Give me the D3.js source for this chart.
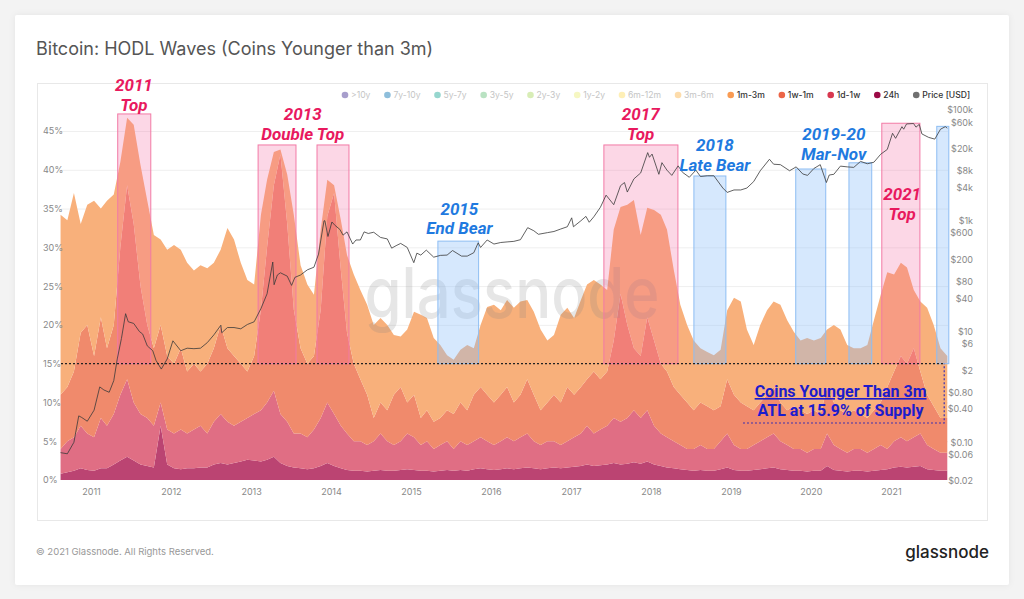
<!DOCTYPE html>
<html><head><meta charset="utf-8">
<script src="https://cdn.jsdelivr.net/npm/d3@7"></script>
<style>
body{margin:0;background:#f3f3f3;}
svg{display:block;font-family:Inter,"Noto Sans",sans-serif;}
</style></head>
<body><svg id="chart" width="1024" height="599"></svg>
<script>
// ---------- DATA ----------
const startMonth = "2010-08-15"; // monthly samples, mid-month
const under3m = [34.2,33.5,37,33,35.5,36,35,36,36.8,41,
 46.7,45.8,40.6,36,31.6,31,29.7,30.3,29.7,28,
 27,27.7,27.3,28,29.7,32.5,31,28,25.8,25.2,
 34.2,38.7,42.3,42.6,39.4,34.2,27.7,25.2,23.9,32.3,
 38.7,38,33.5,29,26.5,24.5,22.6,20,20.9,20,
 18.7,18.5,19.4,21.7,21.3,20.9,18.3,17.4,16.1,15.5,
 16.8,17.4,17,20,22.3,22.6,21.9,23.2,22.2,23,
 23.2,21.7,19.4,18,18.7,21.3,22.2,20.9,23.2,25.2,
 25.8,25.2,24.5,32.3,35.2,35.5,36.1,31.6,35.1,34.8,
 34.2,32.3,27.1,22.6,20,18,17,16.5,16.1,16.8,
 21.9,23.5,23,19.4,17.4,20,21.9,23,22.6,20.6,
 19.1,18,18.3,18,18.3,19.4,20,19.4,17.4,17,
 17,17.4,20.6,23.9,26.8,26.5,28,27.4,24.5,23,
 22.2,20,17,16];
const under1m = [11,12,14,19,20,16,21,17,20,30,
 38,33,25,20,17,20,16,15,17,14,
 15,14,15,17,20,17,16,15,14,16,
 22,30,38,42,33,22,17,15,16,22,
 34,37,27,19,15,13,11,8,10,9,
 11,12,10,11,8,9,7.5,8,9,8.5,
 10,9,11,12,11,10,11,12,10,11,
 13,11,9,10,11,10,12,11,12,13,
 14,13,14,18,24,20,17,16,21,18,
 15,14,12,11,10,9,10,9.5,9,9.5,
 13,11,10,9.5,9,10,11,12,10,9,
 9.5,9,8.5,9,8.5,12,10,9,8.5,9,
 8.5,8,9,10,12,14,16,15,17,14,
 11,9.5,8,8];
const under1w = [4,5,5.5,7,6,5.5,8,7,8.5,11,
 13,10,8.5,8,7,10,6.5,6,6.5,6,
 6.5,7,6,7.5,8.5,7.5,7,7.5,8,8.5,
 9,10,11.5,8.5,7.5,6,6,5.5,6.5,8,
 10,8.5,7,6,5,5,4.5,5,6,5,
 4.5,5,6,5.5,4.5,5,4,4.5,5,4,
 5,4.5,5,5.5,5,4.5,5,5.5,5,5.5,
 6,5,4.5,5,5,4.5,5,5.5,6,7,
 6,6.5,7,8,7.5,8,9,8,9,7,
 6,5.5,5,4.5,4,4,4.5,4,4,5,
 6,4.5,4,4,4.5,5,5.5,6,5,4.5,
 4,4,3.5,4,4,6,4.5,4,3.5,4,
 4,3.5,4,4.5,4,5,5.5,5,5.5,6,
 4.5,4,3.5,3.5];
const under24h = [0.8,1,1.2,1.5,1.3,1.2,1.5,1.5,2,2.5,
 3,2.5,2,1.8,1.6,7,2,1.5,1.4,1.5,
 1.5,1.6,1.6,2,2.2,2,2.2,2.4,2.6,2.5,
 2.4,2.6,3,2.2,1.8,1.6,1.5,1.4,1.5,1.8,
 2.2,1.8,1.5,1.3,1.2,1.2,1.1,1.2,1.3,1.2,
 1.2,1.3,1.4,1.3,1.2,1.2,1.1,1.2,1.3,1.2,
 1.3,1.2,1.4,1.5,1.4,1.3,1.4,1.5,1.4,1.5,
 1.6,1.5,1.4,1.5,1.6,1.5,1.6,1.7,1.8,2,
 1.8,1.9,2,2.2,2,2.1,2.3,2.1,2.4,2,
 1.8,1.6,1.5,1.4,1.3,1.2,1.3,1.2,1.2,1.4,
 1.6,1.3,1.2,1.2,1.3,1.4,1.5,1.6,1.4,1.3,
 1.2,1.2,1.1,1.2,1.2,1.8,1.3,1.2,1.1,1.2,
 1.2,1.1,1.2,1.3,1.4,1.6,1.7,1.6,1.7,1.8,
 1.4,1.3,1.2,1.2];

const priceDates = ["2010-08-15","2010-09-15","2010-10-15","2010-11-06","2010-11-20","2010-12-15","2011-01-15","2011-02-10","2011-03-01","2011-03-25","2011-04-15","2011-05-01","2011-05-20","2011-06-08","2011-06-20","2011-07-15","2011-08-10","2011-08-25","2011-09-15","2011-10-10","2011-10-25","2011-11-18","2011-12-15","2012-01-10","2012-02-15","2012-03-15","2012-04-15","2012-05-15","2012-06-15","2012-07-15","2012-08-16","2012-08-20","2012-09-15","2012-10-15","2012-11-15","2012-12-15","2013-01-15","2013-02-15","2013-03-15","2013-04-10","2013-04-16","2013-05-01","2013-05-15","2013-06-15","2013-07-05","2013-07-20","2013-08-15","2013-09-15","2013-10-15","2013-11-05","2013-11-30","2013-12-04","2013-12-18","2014-01-05","2014-01-20","2014-02-10","2014-02-25","2014-03-15","2014-04-10","2014-04-25","2014-05-15","2014-06-01","2014-06-20","2014-07-15","2014-08-15","2014-09-15","2014-10-05","2014-10-25","2014-11-15","2014-12-15","2015-01-14","2015-01-28","2015-02-15","2015-03-12","2015-04-15","2015-05-15","2015-06-15","2015-07-10","2015-08-20","2015-09-15","2015-10-15","2015-11-04","2015-11-15","2015-12-15","2016-01-15","2016-02-15","2016-03-15","2016-04-15","2016-05-15","2016-06-17","2016-07-15","2016-08-05","2016-09-15","2016-10-15","2016-11-15","2016-12-15","2017-01-04","2017-01-12","2017-02-15","2017-03-10","2017-03-25","2017-04-15","2017-05-15","2017-06-10","2017-07-15","2017-08-15","2017-09-02","2017-09-15","2017-10-15","2017-11-15","2017-12-17","2017-12-25","2018-01-06","2018-02-06","2018-02-20","2018-03-15","2018-04-06","2018-05-05","2018-05-25","2018-06-25","2018-07-25","2018-08-15","2018-09-15","2018-10-15","2018-11-25","2018-12-15","2019-01-15","2019-02-15","2019-03-15","2019-04-15","2019-05-15","2019-06-26","2019-07-15","2019-08-15","2019-09-26","2019-10-26","2019-11-25","2019-12-17","2020-01-15","2020-02-13","2020-03-12","2020-03-25","2020-04-15","2020-05-15","2020-06-15","2020-07-15","2020-08-15","2020-09-15","2020-10-15","2020-11-15","2020-12-15","2021-01-08","2021-01-22","2021-02-20","2021-02-28","2021-03-13","2021-04-14","2021-04-25","2021-05-10","2021-05-22","2021-06-22","2021-07-20","2021-08-15","2021-09-06","2021-09-15"];
const priceValues = [0.065,0.062,0.10,0.30,0.28,0.24,0.38,1.0,0.88,0.80,1.3,3.2,7.5,21,15,14,10,9,5.5,4.5,3.0,2.1,3.2,6.8,4.5,5.0,4.9,5.0,6.3,8.7,13,9.5,11.8,11.8,11.2,13.4,15,26,48,180,70,105,115,100,68,95,105,130,145,250,1000,1000,520,950,820,700,550,630,380,450,450,630,590,620,500,470,320,355,390,330,175,260,240,295,220,237,240,290,230,230,265,400,330,450,380,405,415,425,455,750,660,570,610,640,710,780,1130,780,1000,1200,940,1180,1750,2900,1950,4300,4900,3300,5700,7300,17000,14000,16000,6900,11200,8200,6600,9800,7500,6100,8200,6300,6500,6500,3900,3250,3600,3600,3900,5100,8000,12900,10500,10300,8000,9400,7000,6600,8800,10300,4900,6700,6900,9700,9400,9200,11800,10700,11400,15900,19400,38000,30800,50000,45000,56000,57000,49000,55000,37000,32000,29800,45000,50000,47000];

const yearTicks = [2011,2012,2013,2014,2015,2016,2017,2018,2019,2020,2021];
const pctTicks = [0,5,10,15,20,25,30,35,40,45];
const priceTicks = [0.02,0.06,0.1,0.4,0.8,2,6,10,40,80,200,600,1000,4000,8000,20000,60000,100000];
const priceTickLabels = ["$0.02","$0.06","$0.10","$0.40","$0.80","$2","$6","$10","$40","$80","$200","$600","$1k","$4k","$8k","$20k","$60k","$100k"];

const legendNames = [">10y","7y-10y","5y-7y","3y-5y","2y-3y","1y-2y","6m-12m","3m-6m","1m-3m","1w-1m","1d-1w","24h","Price [USD]"];
const legendColors = ["#5e4fa2","#3288bd","#3fb5a6","#7fcb8f","#b8df7a","#eef08f","#fde27a","#fcc066","#f99b53","#ec6547","#d8384f","#9b0a46","#707070"];
const legendActive = [0,0,0,0,0,0,0,0,1,1,1,1,1];

// highlighted periods [start, end, top %]
const topPeriods = [["2011-05-03","2011-10-01",47.2],["2013-02-02","2013-07-25",43.2],["2013-10-29","2014-03-24",43.2],["2017-05-31","2018-05-04",43.2],["2020-11-20","2021-05-13",46.0]];
const bearPeriods = [["2015-05-04","2015-11-06",30.8],["2018-07-16","2018-12-09",39.2],["2019-10-24","2020-03-09",40.1],["2020-06-23","2020-10-05",40.9],["2021-07-29","2021-09-22",45.6]];
const topLabels = [["2011","Top","2011-07-16",50.1],["2013","Double Top","2013-08-25",46.4],["2017","Top","2017-11-15",46.4],["2021","Top","2021-02-21",36.1]];
const bearLabels = [["2015","End Bear","2015-08-10",34.2],["2018","Late Bear","2018-10-20",42.4],["2019-20","Mar-Nov","2020-04-15",43.8]];
const atlLevel = 15;
const atlBox = ["2019-02-25","2021-09-01",7.35];

// ---------- CHART ----------
const svg = d3.select("#chart");
const parse = d3.utcParse("%Y-%m-%d");
const x = d3.scaleUtc().domain([new Date(Date.UTC(2011,0,1)), new Date(Date.UTC(2021,0,1))]).range([91,891]);
const y = d3.scaleLinear().domain([0,45]).range([480,131]);
const yp = d3.scaleLog().domain([0.02,100000]).range([481,110]);

// card
svg.append("rect").attr("x",15).attr("y",15).attr("width",994).attr("height",570).attr("fill","#fff").attr("rx",2)
  .style("filter","drop-shadow(0 0 3px rgba(0,0,0,0.06))");
svg.append("text").attr("x",36).attr("y",55).attr("font-size",18).attr("fill","#555").text("Bitcoin: HODL Waves (Coins Younger than 3m)");
svg.append("rect").attr("x",37.5).attr("y",83.5).attr("width",950).attr("height",437).attr("fill","none").attr("stroke","#e8e8e8");

// grid
svg.append("g").selectAll("line").data(pctTicks.filter(d=>d>0)).join("line")
  .attr("x1",61).attr("x2",948).attr("y1",d=>y(d)+0.5).attr("y2",d=>y(d)+0.5).attr("stroke","#efefef");

// data rows
const start = parse(startMonth);
const rows = under3m.map((v,i)=>({date:d3.utcMonth.offset(start,i), a:under24h[i], b:under1w[i], c:under1m[i], d:v}));
const bands = [
  {lo:()=>0, hi:r=>r.a, color:"#bb4472"},
  {lo:r=>r.a, hi:r=>r.b, color:"#e06e84"},
  {lo:r=>r.b, hi:r=>r.c, color:"#f08a6c"},
  {lo:r=>r.c, hi:r=>r.d, color:"#f8b07b"}
];
bands.forEach(bd=>{
  svg.append("path").datum(rows)
    .attr("d", d3.area().x(r=>x(r.date)).y0(r=>y(bd.lo(r))).y1(r=>y(bd.hi(r))))
    .attr("fill",bd.color);
});

// watermark
svg.append("text").attr("x",512).attr("y",318).attr("text-anchor","middle").attr("font-size",70).attr("font-weight",500)
  .attr("textLength",295).attr("lengthAdjust","spacingAndGlyphs")
  .attr("fill","#808080").attr("fill-opacity",0.2).text("glassnode");

// highlight rects
svg.append("g").selectAll("rect").data(topPeriods).join("rect")
  .attr("x",d=>x(parse(d[0]))).attr("width",d=>x(parse(d[1]))-x(parse(d[0])))
  .attr("y",d=>y(d[2])).attr("height",d=>y(atlLevel)-y(d[2]))
  .attr("fill","rgba(245,95,155,0.25)").attr("stroke","#f27aa6").attr("stroke-width",1);
svg.append("g").selectAll("rect").data(bearPeriods).join("rect")
  .attr("x",d=>x(parse(d[0]))).attr("width",d=>x(parse(d[1]))-x(parse(d[0])))
  .attr("y",d=>y(d[2])).attr("height",d=>y(atlLevel)-y(d[2]))
  .attr("fill","rgba(140,190,250,0.36)").attr("stroke","#8dbdf3").attr("stroke-width",1);

// price line
const price = priceDates.map((d,i)=>({date:parse(d), v:priceValues[i]}));
svg.append("path").datum(price).attr("d", d3.line().x(p=>x(p.date)).y(p=>yp(p.v)))
  .attr("fill","none").attr("stroke","#3a3a3a").attr("stroke-width",0.8);

// ATL line and box
svg.append("line").attr("x1",61).attr("x2",x(parse(atlBox[1]))).attr("y1",y(atlLevel)).attr("y2",y(atlLevel))
  .attr("stroke","#222").attr("stroke-width",1.2).attr("stroke-dasharray","2,2");
svg.append("path").attr("d",`M${x(parse(atlBox[0]))},${y(atlBox[2])}H${x(parse(atlBox[1]))}V${y(atlLevel)}`)
  .attr("fill","none").attr("stroke","#3a2fb0").attr("stroke-width",1.2).attr("stroke-dasharray","2,2");
const atlG = svg.append("g").attr("font-family","Roboto, sans-serif").attr("font-weight",700).attr("font-size",16).attr("fill","#1c1ccc").attr("text-anchor","middle");
const atlCx = (x(parse(atlBox[0]))+x(parse(atlBox[1])))/2 - 3;
atlG.append("text").attr("x",atlCx).attr("y",y(10.7)).attr("text-decoration","underline").text("Coins Younger Than 3m");
atlG.append("text").attr("x",atlCx).attr("y",y(8.2)).text("ATL at 15.9% of Supply");

// annotations
function labels(data,color){
  const g = svg.append("g").attr("font-family","Roboto, sans-serif").attr("font-weight",700).attr("font-style","italic")
    .attr("font-size",17).attr("fill",color).attr("text-anchor","middle");
  data.forEach(d=>{
    g.append("text").attr("x",x(parse(d[2]))).attr("y",y(d[3])).text(d[0]);
    g.append("text").attr("x",x(parse(d[2]))).attr("y",y(d[3])+19.5).text(d[1]);
  });
}
labels(topLabels,"#e8195e");
labels(bearLabels,"#1f7ae0");

// axes
const axX = svg.append("g").attr("transform","translate(0,489)")
  .call(d3.axisBottom(x).tickValues(yearTicks.map(yr=>new Date(Date.UTC(yr,0,1)))).tickFormat(d3.utcFormat("%Y")).tickSize(0).tickPadding(0));
const axL = svg.append("g").attr("transform","translate(43,0)")
  .call(d3.axisLeft(y).tickValues(pctTicks).tickFormat(d=>d+"%").tickSize(0).tickPadding(0));
axL.selectAll("text").attr("text-anchor","start").attr("x",0);
const axR = svg.append("g").attr("transform","translate(973,0)")
  .call(d3.axisRight(yp).tickValues(priceTicks).tickFormat((d,i)=>priceTickLabels[i]).tickSize(0).tickPadding(0));
axR.selectAll("text").attr("text-anchor","end").attr("x",0);
[axX,axL,axR].forEach(a=>{
  a.select(".domain").remove();
  a.selectAll("text").attr("font-family","Inter, sans-serif").attr("font-size",9).attr("fill","#888");
});

// legend
const lg = svg.append("g").attr("font-size",8.6);
let lx = 345;
legendNames.forEach((n,i)=>{
  const on = legendActive[i];
  lg.append("circle").attr("cx",lx).attr("cy",95).attr("r",3.3).attr("fill",legendColors[i]).attr("opacity",on?1:0.55);
  const t = lg.append("text").attr("x",lx+6).attr("y",98).attr("fill",on?"#333":"#c4c4c4").attr("font-weight",on?500:400).text(n);
  lx += 6 + t.node().getComputedTextLength() + 17;
});

// footer
svg.append("text").attr("x",36).attr("y",555).attr("font-size",9.5).attr("fill","#999").text("© 2021 Glassnode. All Rights Reserved.");
svg.append("text").attr("x",989).attr("y",558).attr("text-anchor","end").attr("font-size",17).attr("font-weight",500).attr("fill","#222").text("glassnode");
</script></body></html>
